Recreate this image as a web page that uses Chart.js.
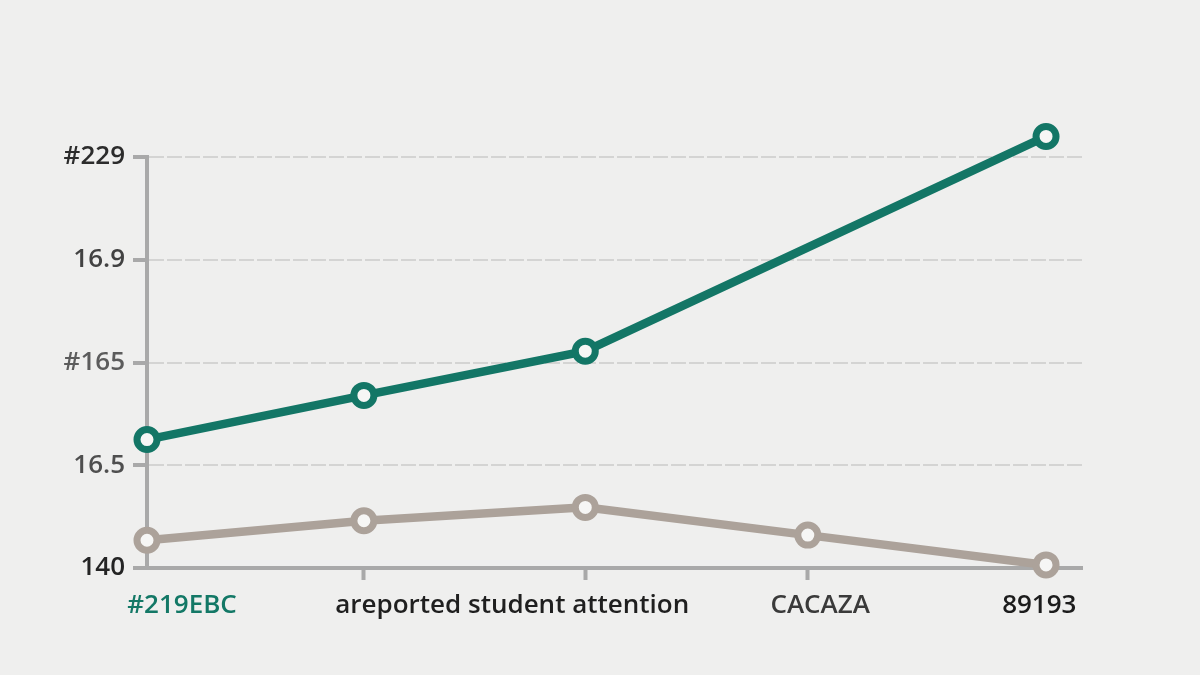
<!DOCTYPE html>
<html>
<head>
<meta charset="utf-8">
<script src="https://cdn.jsdelivr.net/npm/chart.js@4.4.1/dist/chart.umd.min.js"></script>
<style>
  html, body { margin: 0; padding: 0; background: #efefee; }
  #wrap { width: 1200px; height: 675px; }
</style>
</head>
<body>
<div id="wrap"><canvas id="chart" width="1200" height="675"></canvas></div>
<script>
// values
const pointX = [0, 0.965, 1.95, 2.94, 4];
const tealValues = [1.25, 1.68, 2.11, null, 4.2];
const greyValues = [0.27, 0.46, 0.59, 0.32, 0.03];

const yTickValues = [0, 1, 2, 3, 4];
const yTickLabels = ["140", "16.5", "#165", "16.9", "#229"];
const yTickColors = ["#242424", "#4f4f4f", "#5c5c5c", "#424242", "#2c2c2c"];

const xMarkValues = [0.965, 1.95, 2.94];
const xLabelValues = [0.156, 1.625, 2.995, 3.97];
const xLabels = ["#219EBC", "areported student attention", "CACAZA", "89193"];
const xLabelColors = ["#137866", "#1f1f1f", "#3a3a3a", "#1c1c1c"];

const TEAL = "#137666";
const GREY = "#aca29a";
const AXIS = "#a9a9a9";

const toPoints = (values) =>
  values
    .map((v, i) => (v === null ? null : { x: pointX[i], y: v }))
    .filter((p) => p !== null);

const labelFont = { family: "'Open Sans', 'Noto Sans', sans-serif", size: 26, weight: 600 };

// the last teal point sits above the top tick, let points draw outside the area
const looseArea = {
  id: "looseArea",
  beforeDatasetsDraw(chart) {
    chart._savedTop = chart.chartArea.top;
    chart.chartArea.top = 0;
  },
  afterDatasetsDraw(chart) {
    chart.chartArea.top = chart._savedTop;
  },
};

new Chart(document.getElementById("chart"), {
  type: "line",
  data: {
    datasets: [
      {
        label: "grey",
        data: toPoints(greyValues),
        borderColor: GREY,
        borderWidth: 8.5,
        pointRadius: 10,
        pointBorderWidth: 7,
        pointBackgroundColor: "#f6f6f5",
        pointBorderColor: GREY,
        clip: false,
        order: 2,
      },
      {
        label: "teal",
        data: toPoints(tealValues),
        borderColor: TEAL,
        borderWidth: 8.5,
        pointRadius: 10,
        pointBorderWidth: 7,
        pointBackgroundColor: "#f6f6f5",
        pointBorderColor: TEAL,
        clip: false,
        order: 1,
      },
    ],
  },
  options: {
    responsive: false,
    animation: false,
    events: [],
    layout: { padding: { top: 157, right: 118, bottom: 0, left: 0 } },
    plugins: { legend: { display: false }, tooltip: { enabled: false } },
    scales: {
      y: {
        type: "linear",
        min: 0,
        max: 4,
        afterBuildTicks: (axis) => {
          axis.ticks = yTickValues.map((v) => ({ value: v }));
        },
        afterFit: (axis) => {
          axis.width = 147;
        },
        ticks: {
          padding: 8,
          font: labelFont,
          color: (ctx) => yTickColors[ctx.index],
          callback: (value, index) => yTickLabels[index],
        },
        grid: {
          color: (ctx) => (ctx.tick && ctx.tick.value === 0 ? "rgba(0,0,0,0)" : "#d4d4d3"),
          lineWidth: 2,
          tickLength: 14,
          tickColor: AXIS,
          tickWidth: 4,
        },
        border: { color: AXIS, width: 4, dash: [15, 3] },
      },
      x: {
        type: "linear",
        position: "bottom",
        min: 0,
        max: 4.16,
        weight: 0,
        afterBuildTicks: (axis) => {
          axis.ticks = xMarkValues.map((v) => ({ value: v }));
        },
        afterFit: (axis) => {
          axis.height = 12;
        },
        ticks: { display: false },
        grid: {
          drawOnChartArea: false,
          tickLength: 12,
          tickColor: AXIS,
          tickWidth: 4,
        },
        border: { color: AXIS, width: 4 },
      },
      xl: {
        type: "linear",
        position: "bottom",
        min: 0,
        max: 4.16,
        weight: 1,
        afterBuildTicks: (axis) => {
          axis.ticks = xLabelValues.map((v) => ({ value: v }));
        },
        afterFit: (axis) => {
          axis.height = 95;
        },
        ticks: {
          padding: 10,
          maxRotation: 0,
          autoSkip: false,
          font: labelFont,
          color: (ctx) => xLabelColors[ctx.index],
          callback: (value, index) => xLabels[index],
        },
        grid: { display: false, drawTicks: false },
        border: { display: false },
      },
    },
  },
  plugins: [looseArea],
});
</script>
</body>
</html>
